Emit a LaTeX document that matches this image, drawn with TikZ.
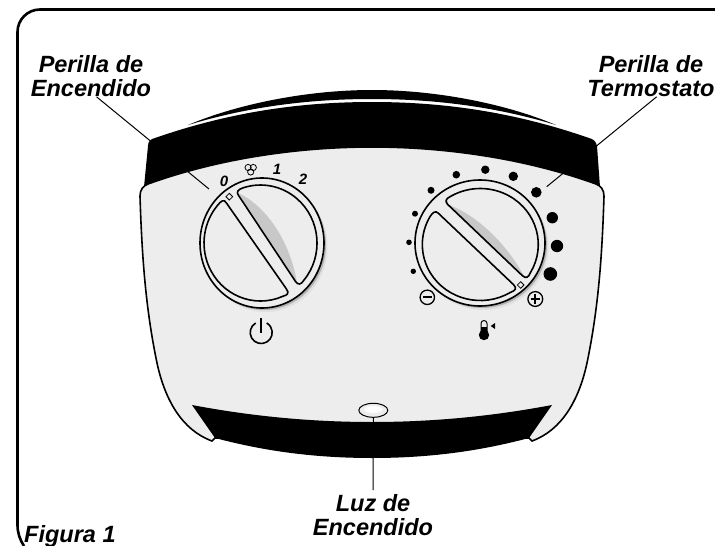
\documentclass[tikz,border=0pt]{standalone}
\usepackage{fontspec}
\setmainfont{Liberation Sans}
\usetikzlibrary{shapes.geometric}
\definecolor{panel}{HTML}{EDEDED}
\definecolor{wedge}{HTML}{C8C8C8}
\begin{document}
\begin{tikzpicture}
	[x=1pt, y=-1pt,
	callout/.style = {inner sep=0, align=center, font=\fontsize{23.5}{24}\selectfont\bfseries\itshape},
	digit/.style = {inner sep=0, font=\fontsize{15}{15}\selectfont\bfseries\itshape},
	leader/.style = {line width=1},
	outline/.style = {draw, line width=1.6},
	grip/.style = {draw, line width=1.6},
	dialmark/.style = {draw, line width=0.8, fill=panel, diamond, aspect=1, inner sep=0, minimum size=7}]
	\useasboundingbox (0,0) rectangle (715,546);
	% frame
	\draw[line width=2.6] (715,9.5) -- (40,9.5) arc[start angle=270, end angle=180, radius=22.5]
		-- (17.5,525) .. controls (17.5,533) and (20,540) .. (24,546);
	% labels
	\node[callout] (perillaon) at (91,76) {Perilla de\\Encendido};
	\node[callout] (perillatemp) at (651,76) {Perilla de\\Termostato};
	\node[callout] (luz) at (373,515) {Luz de\\Encendido};
	\node[callout, anchor=base west] (figura) at (24,542.5) {Figura 1};
	\coordinate (onend) at (209,189);
	\coordinate (tempend) at (546.7,186.7);
	% body
	\fill (188,125) .. controls (240,103) and (310,90) .. (372,90)
		.. controls (434,90) and (504,103) .. (556,125)
		.. controls (500,108) and (440,99) .. (372,99)
		.. controls (304,99) and (244,108) .. (188,125) -- cycle;
	\fill (144,187) -- (148,146) .. controls (148,141) and (151,139) .. (155,138)
		.. controls (230,112) and (300,102) .. (372,102)
		.. controls (444,102) and (514,112) .. (589,138)
		.. controls (593,139) and (596,141) .. (597,146) -- (600,187) -- cycle;
	\draw[outline, fill=panel] (148,184) .. controls (220,158) and (300,147) .. (372,147)
		.. controls (444,147) and (524,158) .. (596,184)
		.. controls (601,186) and (604,190) .. (604,196)
		.. controls (602,260) and (598,310) .. (587,363)
		.. controls (579,400) and (562,430) .. (532,441)
		-- (529,438) -- (215,438) -- (212,441)
		.. controls (182,430) and (165,400) .. (157,363)
		.. controls (146,310) and (142,260) .. (140,196)
		.. controls (140,190) and (143,186) .. (148,184) -- cycle;
	\fill (192,405) .. controls (250,416) and (310,422) .. (372,422)
		.. controls (434,422) and (494,416) .. (552,405)
		-- (529,438) .. controls (480,451) and (430,458) .. (372,458)
		.. controls (314,458) and (264,451) .. (215,438) -- cycle;
	% light
	\node[ellipse, draw, line width=1, fill=panel, minimum width=29, minimum height=14, inner sep=0] (led) at (373.3,410.3) {};
	\fill[white] (373.3,409.5) ellipse[x radius=9, y radius=3.5];
	% leaders
	\draw[leader] (perillaon.-75) -- (onend);
	\draw[leader] (perillatemp.-75) -- (tempend);
	\draw[leader, shorten >=4] (led) -- (luz);
	% power knob
	\fill[black!12] (265.5,247) ellipse[x radius=62, y radius=65];
	\fill[black!30] (264,245) ellipse[x radius=62, y radius=65];
	\draw[outline, fill=panel] (262,243) ellipse[x radius=62, y radius=65];
	\fill[wedge] (238,193) .. controls (265,205) and (290,240) .. (297,283) -- cycle;
	\draw[grip] (226.5,203.1) -- (286.4,288.9) .. controls (289.3,293) and (288,295) .. (282.6,296.4)
		arc[start angle=67, end angle=221, x radius=56.5, y radius=58]
		.. controls (221,201) and (224,198.5) .. (226.5,203.1) -- cycle;
	\draw[grip] (238.4,195.2) -- (295.6,281.6) .. controls (298,285) and (301,285) .. (303.8,280.3)
		arc[start angle=40, end angle=-108, x radius=56.5, y radius=58]
		.. controls (238,189.5) and (236,192) .. (238.4,195.2) -- cycle;
	\node[dialmark] (powermark) at (229.3,196.7) {};
	\node[digit] (d0) at (224,181) {0};
	\node[digit] (d1) at (277,169) {1};
	\node[digit] (d2) at (303,179) {2};
	% fan
	\foreach \a in {90, 210, 330} {
		\draw[line width=0.8] (250.7,169) ++(\a:3) ellipse[x radius=3.1, y radius=3.1];
	}
	% power sign
	\draw[line width=1.6] (255.7,323) arc[start angle=240, end angle=-60, radius=11];
	\draw[line width=1.6] (261.2,318.3) -- (261.2,333);
	% thermostat knob
	\fill[black!12] (483.5,247) ellipse[x radius=65, y radius=63];
	\fill[black!30] (482,245) ellipse[x radius=65, y radius=63];
	\draw[outline, fill=panel] (480,243) ellipse[x radius=65, y radius=63];
	\fill[wedge] (446,204) .. controls (472,212) and (505,240) .. (525,278) -- cycle;
	\draw[grip] (438.3,213.2) -- (513.4,284.5) .. controls (517,288) and (516,290.5) .. (510.2,292.5)
		arc[start angle=59, end angle=210, x radius=58, y radius=56]
		.. controls (433,212) and (435.5,210.5) .. (438.3,213.2) -- cycle;
	\draw[grip] (447.7,204.4) -- (522.3,275.6) .. controls (526,279) and (528.5,277.5) .. (530.5,272.5)
		arc[start angle=30, end angle=-120, x radius=58, y radius=56]
		.. controls (446,198.5) and (444.5,201) .. (447.7,204.4) -- cycle;
	\node[dialmark] (tempmark) at (520.7,285) {};
	% scale
	\foreach \px/\py/\pr in {413.3/271.3/2.7, 409/242.3/2.8, 415/213.7/3, 431/190.3/3.5, 456.3/174.7/3.8,
		485.3/169.7/4.2, 513.3/176.3/4.7, 536.3/192.3/5.3, 552.3/217.7/5.7, 557/246/6.2, 550.3/274/6.8} {
		\fill (\px,\py) circle (\pr);
	}
	% minus and plus
	\draw[line width=1.3] (427.3,297.3) circle (7.2);
	\draw[line width=1.7] (423,297.3) -- (431.6,297.3);
	\draw[line width=1.3] (535.3,299) circle (7.4);
	\draw[line width=1.7] (530.5,299) -- (540.1,299);
	\draw[line width=1.7] (535.3,294.2) -- (535.3,303.8);
	% thermometer
	\draw[line width=1] (481,334) -- (481,323.5) arc[start angle=180, end angle=360, radius=3] -- (487,334);
	\fill (484,335) circle (5.2);
	\fill (481,327) rectangle (487,335);
	\fill (490.7,326) -- (495,323) -- (495,329) -- cycle;
\end{tikzpicture}
\end{document}
